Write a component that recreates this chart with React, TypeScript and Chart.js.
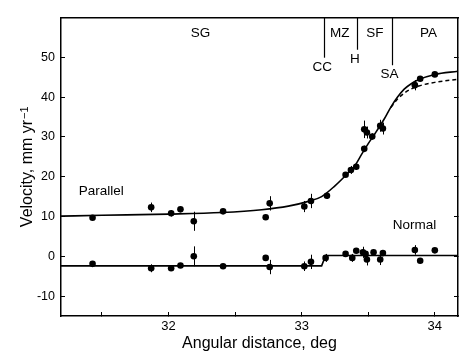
import React, { useEffect, useRef } from "react";
import { Chart, registerables } from "chart.js";

Chart.register(...registerables);

// ---- data ----
const PAR_X = [31.43, 31.87, 32.02, 32.09, 32.19, 32.41, 32.73, 32.76, 33.02, 33.07, 33.19, 33.33, 33.37, 33.41, 33.47, 33.47, 33.49, 33.53, 33.59, 33.61, 33.85, 33.89, 34.0];
const PAR_Y = [9.7, 12.3, 10.8, 11.8, 8.8, 11.3, 9.8, 13.3, 12.5, 13.9, 15.2, 20.5, 21.7, 22.5, 27.0, 31.9, 31.1, 30.1, 32.8, 32.1, 43.0, 44.6, 45.7];
const PAR_ERR = [0, 1.2, 0.8, 0, 2.4, 0, 0, 1.8, 1.4, 1.8, 0.8, 0.5, 1.0, 0.8, 0.8, 2.2, 1.5, 0.8, 1.5, 1.5, 1.3, 0.5, 0];

const NORM_X = [31.43, 31.87, 32.02, 32.09, 32.19, 32.41, 32.73, 32.76, 33.02, 33.07, 33.18, 33.33, 33.38, 33.41, 33.46, 33.48, 33.49, 33.54, 33.59, 33.61, 33.85, 33.89, 34.0];
const NORM_Y = [-1.9, -3.0, -3.0, -2.3, 0.0, -2.5, -0.4, -2.7, -2.5, -1.4, -0.4, 0.6, -0.4, 1.4, 1.0, 0.6, -0.8, 1.0, -0.8, 0.8, 1.6, -1.1, 1.5];
const NORM_ERR = [0, 1.0, 0.6, 0, 2.5, 0, 0, 1.8, 1.2, 1.8, 1.0, 0, 1.0, 0, 1.4, 0, 1.5, 0, 1.4, 0, 1.2, 0, 0];

const PAR_FIT_X = [31.193, 31.5, 32.0, 32.4, 32.7, 32.9, 33.05, 33.15, 33.25, 33.33, 33.4, 33.45, 33.5, 33.55, 33.62, 33.67, 33.72, 33.77, 33.82, 33.88, 34.0, 34.174];
const PAR_FIT_Y = [10.1, 10.3, 10.6, 11.0, 11.7, 12.6, 13.8, 15.0, 17.7, 20.3, 22.8, 25.6, 28.3, 30.8, 34.5, 37.5, 40.0, 42.0, 43.3, 44.4, 45.7, 46.5];

const PAR_ALT_X = [33.67, 33.72, 33.77, 33.82, 33.88, 34.0, 34.174];
const PAR_ALT_Y = [37.4, 39.5, 41.0, 42.0, 42.8, 43.7, 44.5];

const NORM_FIT_X = [31.193, 33.15, 33.18, 34.174];
const NORM_FIT_Y = [-2.4, -2.4, 0.2, 0.2];

const X_MIN = 31.193;
const X_MAX = 34.174;
const Y_MIN = -15;
const Y_MAX = 60;
const X_TICKS = [31.5, 32, 32.5, 33, 33.5, 34];
const Y_TICKS = [-10, 0, 10, 20, 30, 40, 50];

const ZONE_NAMES = ["SG", "MZ", "SF", "PA"];
const ZONE_NAME_X = [32.24, 33.286, 33.549, 33.952];
const ZONE_NAME_Y = 56.0;
const BOUND_X = [33.167, 33.415, 33.676];
const BOUND_BOTTOM = [49.9, 51.9, 48.0];
const BOUND_NAMES = ["CC", "H", "SA"];
const BOUND_NAME_X = [33.154, 33.40, 33.66];
const BOUND_NAME_Y = [47.5, 49.4, 45.7];
const SERIES_NAMES = ["Parallel", "Normal"];
const SERIES_NAME_X = [31.496, 33.847];
const SERIES_NAME_Y = [16.3, 7.7];

const X_TITLE = "Angular distance, deg";
const Y_TITLE = "Velocity, mm yr";
const Y_TITLE_SUP = "\u22121";

const FONT = "'Liberation Sans', Arial, Helvetica, sans-serif";

const pts = (xs: number[], ys: number[]) => xs.map((x, i) => ({ x, y: ys[i] }));

const errorBarPlugin = {
  id: "errorBars",
  beforeDatasetsDraw(chart: any) {
    const { ctx, scales } = chart;
    const xs = scales.x;
    const ys = scales.y;
    ctx.save();
    ctx.strokeStyle = "#000";
    ctx.lineWidth = 1;
    const draw = (X: number[], Y: number[], E: number[]) => {
      X.forEach((x, i) => {
        if (!E[i]) return;
        const px = Math.round(xs.getPixelForValue(x)) + 0.5;
        ctx.beginPath();
        ctx.moveTo(px, ys.getPixelForValue(Y[i] - E[i]));
        ctx.lineTo(px, ys.getPixelForValue(Y[i] + E[i]));
        ctx.stroke();
      });
    };
    draw(PAR_X, PAR_Y, PAR_ERR);
    draw(NORM_X, NORM_Y, NORM_ERR);
    ctx.restore();
  },
};

const annotationPlugin = {
  id: "annotations",
  afterDatasetsDraw(chart: any) {
    const { ctx, scales, chartArea } = chart;
    const xs = scales.x;
    const ys = scales.y;
    ctx.save();
    ctx.strokeStyle = "#000";
    ctx.lineWidth = 1.2;
    BOUND_X.forEach((bx, i) => {
      const px = Math.round(xs.getPixelForValue(bx)) + 0.5;
      ctx.beginPath();
      ctx.moveTo(px, chartArea.top);
      ctx.lineTo(px, ys.getPixelForValue(BOUND_BOTTOM[i]));
      ctx.stroke();
    });
    ctx.fillStyle = "#000";
    ctx.textAlign = "center";
    ctx.textBaseline = "middle";
    ctx.font = `13.5px ${FONT}`;
    ZONE_NAMES.forEach((t, i) => {
      ctx.fillText(t, xs.getPixelForValue(ZONE_NAME_X[i]), ys.getPixelForValue(ZONE_NAME_Y));
    });
    BOUND_NAMES.forEach((t, i) => {
      ctx.fillText(t, xs.getPixelForValue(BOUND_NAME_X[i]), ys.getPixelForValue(BOUND_NAME_Y[i]));
    });
    SERIES_NAMES.forEach((t, i) => {
      ctx.fillText(t, xs.getPixelForValue(SERIES_NAME_X[i]), ys.getPixelForValue(SERIES_NAME_Y[i]));
    });

    // y axis title with superscript
    const cy = (chartArea.top + chartArea.bottom) / 2;
    ctx.font = `16px ${FONT}`;
    const w1 = ctx.measureText(Y_TITLE).width;
    ctx.font = `11px ${FONT}`;
    const w2 = ctx.measureText(Y_TITLE_SUP).width;
    const total = w1 + 1 + w2;
    ctx.translate(32, cy + total / 2);
    ctx.rotate(-Math.PI / 2);
    ctx.textAlign = "left";
    ctx.textBaseline = "alphabetic";
    ctx.font = `16px ${FONT}`;
    ctx.fillText(Y_TITLE, 0, 0);
    ctx.font = `11px ${FONT}`;
    ctx.fillText(Y_TITLE_SUP, w1 + 1, -3.6);
    ctx.restore();
  },
};

export default function App() {
  const ref = useRef<HTMLCanvasElement>(null);
  useEffect(() => {
    document.body.style.margin = "0";
    const canvas = ref.current!;
    const chart = new Chart(canvas, {
      type: "scatter",
      data: {
        datasets: [
          {
            data: pts(PAR_X, PAR_Y),
            pointRadius: 3.3,
            pointBackgroundColor: "#000",
            pointBorderColor: "#000",
            pointBorderWidth: 0,
          },
          {
            data: pts(NORM_X, NORM_Y),
            pointRadius: 3.3,
            pointBackgroundColor: "#000",
            pointBorderColor: "#000",
            pointBorderWidth: 0,
          },
          {
            data: pts(PAR_FIT_X, PAR_FIT_Y),
            showLine: true,
            pointRadius: 0,
            borderColor: "#000",
            borderWidth: 1.6,
            cubicInterpolationMode: "monotone",
          } as any,
          {
            data: pts(PAR_ALT_X, PAR_ALT_Y),
            showLine: true,
            pointRadius: 0,
            borderColor: "#000",
            borderWidth: 1.5,
            borderDash: [4, 3],
            cubicInterpolationMode: "monotone",
          } as any,
          {
            data: pts(NORM_FIT_X, NORM_FIT_Y),
            showLine: true,
            pointRadius: 0,
            borderColor: "#000",
            borderWidth: 1.6,
          } as any,
        ],
      },
      options: {
        responsive: false,
        animation: false,
        layout: { padding: { top: 12, left: 0, right: 0, bottom: 0 } },
        plugins: { legend: { display: false }, tooltip: { enabled: false } },
        scales: {
          x: {
            type: "linear",
            position: "bottom",
            min: X_MIN,
            max: X_MAX,
            afterBuildTicks: (s: any) => {
              s.ticks = X_TICKS.map((value) => ({ value }));
            },
            afterFit: (s: any) => {
              s.height = 39;
            },
            grid: { drawOnChartArea: false, color: "#000", tickLength: -4, lineWidth: 1 },
            border: { color: "#000", width: 1.5 },
            ticks: {
              color: "#000",
              font: { family: FONT, size: 13 },
              padding: 7,
              maxRotation: 0,
              callback: (v: any) => (Number.isInteger(v) ? String(v) : ""),
            },
            title: {
              display: true,
              text: X_TITLE,
              color: "#000",
              font: { family: FONT, size: 16 },
              padding: { top: 0, bottom: 1.5 },
            },
          },
          xTop: {
            type: "linear",
            position: "top",
            min: X_MIN,
            max: X_MAX,
            afterFit: (s: any) => {
              s.height = 0;
            },
            grid: { drawOnChartArea: false, drawTicks: false },
            border: { color: "#000", width: 1.5 },
            ticks: { display: false },
          },
          y: {
            type: "linear",
            position: "left",
            min: Y_MIN,
            max: Y_MAX,
            afterBuildTicks: (s: any) => {
              s.ticks = Y_TICKS.map((value) => ({ value }));
            },
            afterFit: (s: any) => {
              s.width = 61;
            },
            grid: { drawOnChartArea: false, color: "#000", tickLength: -4, lineWidth: 1 },
            border: { color: "#000", width: 1.5 },
            ticks: {
              color: "#000",
              font: { family: FONT, size: 12.5 },
              padding: 10,
            },
          },
          yRight: {
            type: "linear",
            position: "right",
            min: Y_MIN,
            max: Y_MAX,
            afterBuildTicks: (s: any) => {
              s.ticks = Y_TICKS.map((value) => ({ value }));
            },
            afterFit: (s: any) => {
              s.width = 1;
            },
            grid: { drawOnChartArea: false, color: "#000", tickLength: -4, lineWidth: 1 },
            border: { color: "#000", width: 1.5 },
            ticks: { display: false },
          },
        },
      } as any,
      plugins: [errorBarPlugin, annotationPlugin],
    });
    return () => chart.destroy();
  }, []);
  return (
    <canvas
      ref={ref}
      width={462}
      height={355}
      style={{ display: "block", width: 462, height: 355 }}
    />
  );
}
